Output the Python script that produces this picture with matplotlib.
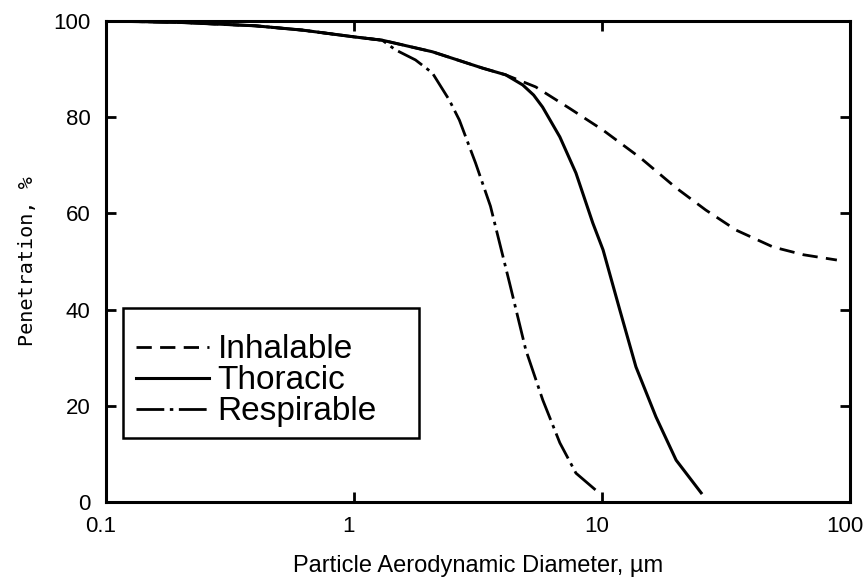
import matplotlib
matplotlib.use('Agg')
import matplotlib.pyplot as plt
from matplotlib.patches import Rectangle
from matplotlib.ticker import FixedLocator, FixedFormatter, NullLocator
from matplotlib.transforms import ScaledTranslation

plt.rcParams['font.family'] = ['Liberation Sans', 'DejaVu Sans']
plt.rcParams['lines.scale_dashes'] = False

# Kurven
inhal_d = [0.1, 0.2, 0.4, 0.62, 1.0, 1.3, 2.07, 3.3, 4.09, 5.4, 7.42, 10.1,
           14.4, 19.9, 26.2, 34.8, 49.0, 64.9, 88.5]
inhal_p = [100, 99.7, 99.0, 98.1, 96.7, 96.0, 93.6, 90.2, 88.8, 86.3, 81.8, 77.3,
           71.4, 65.3, 60.7, 56.5, 53.0, 51.4, 50.3]

thor_d = [0.1, 0.2, 0.4, 0.62, 1.0, 1.3, 2.07, 3.3, 4.09, 4.79, 5.3, 5.76, 6.76,
          7.85, 9.18, 10.1, 11.8, 13.7, 16.5, 19.9, 25.1]
thor_p = [100, 99.7, 99.0, 98.1, 96.7, 96.0, 93.6, 90.2, 88.8, 86.7, 84.6, 82.1, 75.9,
          68.4, 58.0, 52.4, 39.9, 28.1, 17.7, 8.7, 1.9]

resp_d = [0.1, 0.2, 0.4, 0.62, 1.0, 1.3, 1.47, 1.77, 2.07, 2.42, 2.66, 3.09,
          3.55, 4.24, 4.93, 5.77, 6.76, 7.85, 9.62]
resp_p = [100, 99.7, 99.0, 98.1, 96.7, 96.0, 94.0, 91.9, 89.2, 83.6, 79.4, 70.5,
          61.5, 45.5, 31.6, 21.2, 12.3, 6.0, 2.1]

labels = ['Inhalable', 'Thoracic', 'Respirable']
x_ticks = [0.1, 1, 10, 100]
x_ticklabels = ['0.1', '1', '10', '100']
y_ticks = [0, 20, 40, 60, 80, 100]

fig = plt.figure(figsize=(8.65, 5.78), dpi=100)
ax = fig.add_axes([0.1225, 0.1315, 0.8602, 0.8322])

ax.plot(inhal_d, inhal_p, color='black', lw=2.0, linestyle=(0, (11, 6)), label=labels[0])
ax.plot(thor_d, thor_p, color='black', lw=2.2, linestyle='-', label=labels[1])
ax.plot(resp_d, resp_p, color='black', lw=2.0, linestyle=(0, (20, 4, 2.5, 4)), label=labels[2])

ax.set_xscale('log')
ax.set_xlim(0.1, 100)
ax.set_ylim(0, 100)
ax.xaxis.set_major_locator(FixedLocator(x_ticks))
ax.xaxis.set_major_formatter(FixedFormatter(x_ticklabels))
ax.xaxis.set_minor_locator(NullLocator())
ax.set_yticks(y_ticks)

ax.tick_params(axis='both', which='major', direction='in', length=7, width=2,
               top=True, right=True, labelsize=16)
ax.tick_params(axis='x', pad=10)
ax.tick_params(axis='y', pad=11)
for s in ax.spines.values():
    s.set_linewidth(2.2)

# x-Beschriftungen etwas nach links wie im Original
shift = ScaledTranslation(-0.05, 0, fig.dpi_scale_trans)
for lab in ax.get_xticklabels():
    lab.set_transform(lab.get_transform() + shift)

ax.set_xlabel('Particle Aerodynamic Diameter, µm', fontsize=17, labelpad=13)
ax.set_ylabel('Penetration, %', fontsize=14.5, family='DejaVu Sans Mono', labelpad=12)

# Legendenrahmen
ax.add_patch(Rectangle((0.023, 0.133), 0.398, 0.27, transform=ax.transAxes,
                       fill=False, edgecolor='black', lw=1.8, zorder=5))
leg = ax.legend(loc='lower left', bbox_to_anchor=(0.04, 0.155), frameon=False,
                fontsize=24, handlelength=2.2, handletextpad=0.25, labelspacing=0.0,
                borderpad=0, borderaxespad=0)

fig.savefig('out.png', dpi=100)
